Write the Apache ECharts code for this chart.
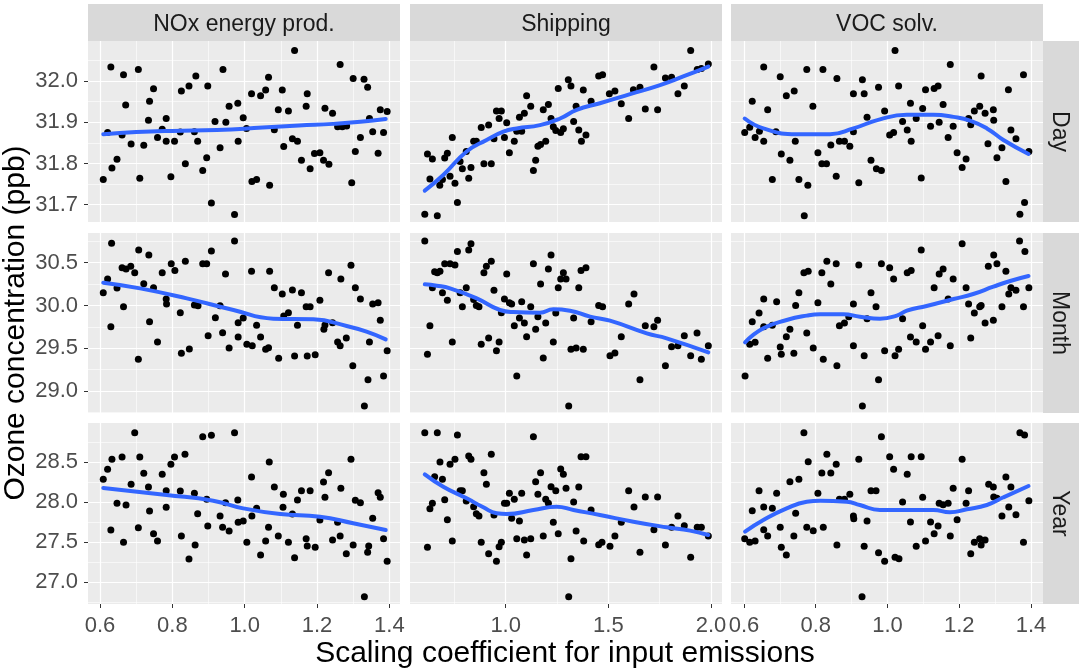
<!DOCTYPE html>
<html>
<head>
<meta charset="utf-8">
<script src="https://cdn.jsdelivr.net/npm/echarts@6/dist/echarts.min.js"></script>
<style>
html, body { margin: 0; padding: 0; background: #ffffff; }
#chart { width: 1079px; height: 670px; }
</style>
</head>
<body>
<div id="chart"></div>
<script>
// Facet labels
const sectors = ['NOx energy prod.', 'Shipping', 'VOC solv.'];
const periods = ['Day', 'Month', 'Year'];

// Tick labels
const xTicksNox = [0.6, 0.8, 1.0, 1.2, 1.4];
const xTicksShip = [1.0, 1.5, 2.0];
const xTicksVoc = [0.6, 0.8, 1.0, 1.2, 1.4];
const yTicksDay = [31.7, 31.8, 31.9, 32.0];
const yTicksMonth = [29.0, 29.5, 30.0, 30.5];
const yTicksYear = [27.0, 27.5, 28.0, 28.5];

// Model runs: [scaling coefficient, ozone (ppb)]
const noxDay = [[0.609,31.761],[0.621,31.875],[0.630,32.034],[0.633,31.789],[0.647,31.810],[0.661,31.869],[0.665,32.015],[0.671,31.942],[0.686,31.847],[0.706,32.028],[0.710,31.764],[0.721,31.844],[0.734,31.905],[0.737,31.951],[0.748,31.981],[0.759,31.863],[0.772,31.883],[0.783,31.909],[0.783,31.854],[0.796,31.768],[0.806,31.854],[0.822,31.876],[0.825,31.976],[0.836,31.799],[0.846,31.988],[0.861,31.877],[0.865,32.012],[0.870,31.854],[0.884,31.783],[0.895,31.814],[0.898,31.988],[0.908,31.704],[0.918,31.902],[0.932,31.838],[0.940,32.028],[0.948,31.900],[0.957,31.939],[0.972,31.676],[0.981,31.946],[0.982,31.854],[0.996,31.911],[1.005,31.885],[1.019,31.969],[1.020,31.756],[1.033,31.761],[1.044,31.964],[1.058,31.978],[1.066,32.009],[1.069,31.747],[1.082,31.882],[1.093,31.930],[1.104,31.978],[1.108,31.841],[1.121,31.927],[1.132,31.860],[1.138,32.074],[1.146,31.854],[1.157,31.808],[1.170,31.939],[1.173,31.969],[1.181,31.787],[1.193,31.824],[1.208,31.826],[1.218,31.808],[1.222,31.934],[1.233,31.798],[1.243,31.922],[1.257,31.889],[1.264,32.040],[1.270,31.889],[1.282,31.891],[1.296,31.753],[1.300,32.006],[1.306,31.829],[1.320,31.863],[1.330,32.004],[1.340,31.985],[1.345,31.909],[1.354,31.877],[1.369,31.825],[1.375,31.930],[1.384,31.875],[1.394,31.926]];
const noxMonth = [[0.609,30.149],[0.621,30.309],[0.632,30.726],[0.630,29.752],[0.647,30.204],[0.661,30.442],[0.665,29.986],[0.672,30.426],[0.685,30.457],[0.696,30.383],[0.707,30.648],[0.706,29.370],[0.721,30.255],[0.735,30.590],[0.737,29.810],[0.748,30.208],[0.759,29.573],[0.772,30.383],[0.783,30.075],[0.784,30.017],[0.797,30.488],[0.807,30.410],[0.822,29.916],[0.825,29.440],[0.836,30.516],[0.847,29.491],[0.861,30.005],[0.871,29.997],[0.884,30.488],[0.895,30.488],[0.899,29.647],[0.908,30.636],[0.919,29.857],[0.932,29.997],[0.939,29.682],[0.947,30.368],[0.957,29.503],[0.972,30.753],[0.982,29.799],[0.982,29.631],[0.996,29.853],[1.006,29.546],[1.019,30.399],[1.021,29.530],[1.033,29.768],[1.044,29.631],[1.058,29.487],[1.066,29.507],[1.069,30.399],[1.082,30.208],[1.094,29.382],[1.104,30.134],[1.108,29.877],[1.121,29.916],[1.132,30.181],[1.138,29.409],[1.146,29.768],[1.157,30.149],[1.170,29.986],[1.173,29.409],[1.181,29.986],[1.195,29.425],[1.208,30.060],[1.219,29.721],[1.222,29.772],[1.232,30.383],[1.243,29.799],[1.257,29.573],[1.264,29.530],[1.266,30.309],[1.281,29.620],[1.294,30.469],[1.299,29.296],[1.306,30.208],[1.320,30.075],[1.331,28.825],[1.341,29.133],[1.345,29.573],[1.354,30.017],[1.369,30.033],[1.375,29.826],[1.384,29.176],[1.394,29.472]];
const noxYear = [[0.609,28.288],[0.621,28.413],[0.630,27.654],[0.633,28.538],[0.647,27.988],[0.661,28.567],[0.665,27.500],[0.672,27.967],[0.686,28.225],[0.696,28.871],[0.706,27.683],[0.710,28.567],[0.721,28.363],[0.734,28.192],[0.737,27.892],[0.748,27.608],[0.759,27.517],[0.772,28.350],[0.783,28.146],[0.783,27.938],[0.796,28.475],[0.806,28.567],[0.822,28.142],[0.825,27.579],[0.835,28.600],[0.846,27.292],[0.861,28.113],[0.863,27.467],[0.870,27.858],[0.884,28.821],[0.895,28.038],[0.898,27.704],[0.908,28.838],[0.932,27.829],[0.939,27.688],[0.947,27.996],[0.957,27.642],[0.972,28.871],[0.981,28.029],[0.982,27.750],[0.996,27.767],[1.006,27.500],[1.019,28.317],[1.020,27.829],[1.033,27.925],[1.044,27.342],[1.058,27.517],[1.066,27.688],[1.068,28.504],[1.082,28.192],[1.093,27.579],[1.107,28.100],[1.106,27.938],[1.121,27.500],[1.132,27.854],[1.138,27.308],[1.146,28.029],[1.157,28.146],[1.170,27.546],[1.173,27.454],[1.181,28.146],[1.195,27.438],[1.208,27.779],[1.218,28.254],[1.222,28.063],[1.232,28.371],[1.243,27.529],[1.257,27.750],[1.264,27.579],[1.266,28.175],[1.281,27.358],[1.294,28.538],[1.300,27.467],[1.306,28.025],[1.320,27.996],[1.331,26.821],[1.340,27.375],[1.343,27.454],[1.354,27.800],[1.369,28.121],[1.375,28.063],[1.384,27.546],[1.394,27.263]];
const shipDay = [[0.606,31.677],[0.667,31.673],[0.619,31.823],[0.643,31.811],[0.631,31.762],[0.679,31.747],[0.692,31.761],[0.703,31.813],[0.716,31.825],[0.729,31.769],[0.740,31.863],[0.753,31.752],[0.765,31.705],[0.778,31.805],[0.789,31.787],[0.808,31.829],[0.820,31.764],[0.831,31.790],[0.844,31.854],[0.857,31.854],[0.881,31.887],[0.894,31.799],[0.917,31.893],[0.930,31.799],[0.943,31.860],[0.955,31.927],[0.968,31.909],[0.979,31.927],[0.994,31.863],[1.005,31.899],[1.018,31.826],[1.042,31.854],[1.054,31.878],[1.067,31.912],[1.078,31.878],[1.091,31.922],[1.102,31.964],[1.122,31.939],[1.135,31.783],[1.146,31.808],[1.157,31.842],[1.170,31.846],[1.183,31.930],[1.195,31.854],[1.208,31.943],[1.221,31.909],[1.232,31.889],[1.244,31.880],[1.256,31.982],[1.268,31.875],[1.281,31.884],[1.305,32.003],[1.318,31.988],[1.331,31.902],[1.343,31.939],[1.356,31.881],[1.369,31.854],[1.378,31.978],[1.391,31.869],[1.416,31.951],[1.453,32.012],[1.472,32.015],[1.505,31.969],[1.532,31.976],[1.563,31.945],[1.599,31.909],[1.622,31.979],[1.654,31.985],[1.680,31.932],[1.722,32.034],[1.740,31.930],[1.778,32.007],[1.808,32.009],[1.839,31.969],[1.870,31.988],[1.901,32.074],[1.933,32.028],[1.953,32.030],[1.987,32.041]];
const shipMonth = [[0.606,30.753],[0.619,29.429],[0.631,29.764],[0.643,30.208],[0.654,30.395],[0.667,30.383],[0.680,30.399],[0.692,30.149],[0.703,30.488],[0.716,30.060],[0.729,30.488],[0.740,29.573],[0.753,30.473],[0.765,30.632],[0.778,30.149],[0.789,29.986],[0.808,30.208],[0.820,30.648],[0.831,30.722],[0.844,30.071],[0.857,30.001],[0.870,29.986],[0.881,29.546],[0.894,30.383],[0.906,30.457],[0.917,29.620],[0.930,30.516],[0.943,30.177],[0.955,29.472],[0.968,29.573],[0.979,29.916],[0.994,30.075],[1.005,30.368],[1.018,30.033],[1.029,30.017],[1.042,29.764],[1.054,29.176],[1.067,29.853],[1.078,30.044],[1.091,29.795],[1.102,29.635],[1.122,29.986],[1.135,30.488],[1.146,29.721],[1.157,29.869],[1.170,30.251],[1.183,29.386],[1.195,29.795],[1.208,30.426],[1.221,30.590],[1.232,29.573],[1.244,29.912],[1.256,30.208],[1.268,30.309],[1.281,30.383],[1.294,30.309],[1.318,29.487],[1.331,29.853],[1.343,29.503],[1.307,28.825],[1.356,30.208],[1.367,30.410],[1.378,29.487],[1.391,30.442],[1.416,29.810],[1.453,30.001],[1.472,29.986],[1.508,29.413],[1.532,29.444],[1.563,29.635],[1.599,30.017],[1.625,30.134],[1.654,29.133],[1.680,29.764],[1.722,29.752],[1.740,29.826],[1.778,29.296],[1.808,29.518],[1.839,29.530],[1.870,29.647],[1.901,29.413],[1.932,29.678],[1.953,29.370],[1.987,29.530]];
const shipYear = [[0.606,28.871],[0.667,28.871],[0.619,27.438],[0.631,27.921],[0.643,27.988],[0.654,28.321],[0.680,28.504],[0.692,28.288],[0.703,28.033],[0.716,27.783],[0.729,28.475],[0.740,27.517],[0.753,28.538],[0.765,28.842],[0.778,28.146],[0.789,28.146],[0.808,28.017],[0.820,28.579],[0.831,28.538],[0.844,27.946],[0.857,27.858],[0.870,27.829],[0.881,27.500],[0.894,28.371],[0.906,28.225],[0.917,27.358],[0.930,28.600],[0.943,27.842],[0.955,27.263],[0.968,27.446],[0.979,27.500],[0.994,27.988],[1.005,27.988],[1.018,28.113],[1.029,27.800],[1.042,28.038],[1.054,27.546],[1.067,27.767],[1.078,28.113],[1.091,27.529],[1.102,27.342],[1.122,27.546],[1.135,28.821],[1.146,28.258],[1.157,28.100],[1.170,28.371],[1.183,27.579],[1.195,28.038],[1.208,27.988],[1.221,28.196],[1.232,27.750],[1.244,28.146],[1.256,27.608],[1.268,28.417],[1.281,28.350],[1.294,28.175],[1.318,27.296],[1.331,28.004],[1.343,27.642],[1.307,26.821],[1.356,28.192],[1.367,28.571],[1.380,27.517],[1.391,28.571],[1.416,27.904],[1.453,27.471],[1.469,27.500],[1.508,27.450],[1.532,27.579],[1.563,27.750],[1.599,28.146],[1.625,27.942],[1.654,27.375],[1.680,28.067],[1.722,27.658],[1.740,28.067],[1.778,27.467],[1.808,27.688],[1.839,27.829],[1.870,27.708],[1.901,27.313],[1.933,27.688],[1.953,27.688],[1.987,27.579]];
const vocDay = [[0.602,31.875],[0.616,31.888],[0.623,31.951],[0.631,31.863],[0.643,31.878],[0.655,31.854],[0.655,32.034],[0.666,31.930],[0.679,31.761],[0.689,31.877],[0.701,32.010],[0.704,31.823],[0.718,31.964],[0.728,31.808],[0.740,31.976],[0.743,31.854],[0.753,31.761],[0.775,32.028],[0.778,31.747],[0.768,31.673],[0.792,31.939],[0.806,31.826],[0.817,31.799],[0.820,32.028],[0.830,31.799],[0.842,31.845],[0.857,31.769],[0.859,32.006],[0.866,31.854],[0.880,31.854],[0.895,31.842],[0.905,31.969],[0.905,31.877],[0.920,31.753],[0.930,32.003],[0.935,31.969],[0.943,31.912],[0.954,31.808],[0.969,31.787],[0.975,31.985],[0.983,31.783],[0.992,31.927],[1.006,31.869],[1.017,31.875],[1.021,32.074],[1.031,31.988],[1.042,31.902],[1.055,31.881],[1.064,31.946],[1.066,31.854],[1.080,31.909],[1.094,31.765],[1.098,31.933],[1.106,31.979],[1.120,31.890],[1.130,31.982],[1.141,31.988],[1.144,31.900],[1.155,31.943],[1.169,31.863],[1.175,32.040],[1.183,31.890],[1.194,31.826],[1.208,31.790],[1.219,31.811],[1.226,31.909],[1.232,31.894],[1.242,31.927],[1.257,31.939],[1.261,32.012],[1.272,31.922],[1.280,31.848],[1.295,31.930],[1.296,31.905],[1.305,31.814],[1.319,31.838],[1.330,31.756],[1.337,31.979],[1.344,31.881],[1.358,31.860],[1.369,31.677],[1.379,32.015],[1.382,31.705],[1.394,31.829]];
const vocMonth = [[0.603,29.176],[0.616,29.546],[0.623,29.810],[0.631,29.569],[0.642,29.912],[0.655,29.752],[0.655,30.075],[0.666,29.382],[0.679,29.768],[0.691,30.044],[0.701,29.514],[0.704,29.429],[0.718,29.635],[0.728,29.721],[0.739,29.440],[0.744,30.001],[0.753,30.149],[0.767,30.383],[0.775,29.678],[0.779,30.399],[0.793,29.503],[0.806,30.033],[0.817,30.383],[0.821,29.370],[0.831,30.516],[0.842,30.251],[0.857,30.488],[0.859,29.296],[0.866,29.764],[0.880,29.795],[0.892,29.869],[0.905,30.017],[0.905,29.530],[0.920,30.473],[0.930,28.825],[0.935,29.413],[0.943,29.846],[0.954,30.149],[0.968,29.986],[0.975,29.133],[0.983,30.488],[0.992,29.472],[1.006,30.442],[1.017,30.309],[1.021,29.413],[1.031,29.487],[1.042,29.846],[1.055,30.383],[1.064,29.631],[1.066,30.410],[1.080,29.573],[1.094,30.648],[1.098,29.764],[1.106,29.487],[1.120,29.573],[1.130,30.208],[1.141,29.647],[1.144,30.368],[1.155,30.426],[1.169,30.075],[1.175,29.530],[1.183,30.309],[1.208,30.722],[1.219,30.208],[1.226,30.017],[1.232,29.620],[1.242,29.912],[1.257,29.986],[1.261,30.001],[1.272,29.795],[1.281,30.457],[1.295,29.826],[1.296,30.590],[1.305,30.488],[1.319,29.986],[1.330,30.399],[1.338,30.134],[1.344,30.208],[1.358,30.177],[1.368,30.753],[1.379,29.986],[1.383,30.632],[1.394,30.208]];
const vocYear = [[0.602,27.546],[0.616,27.500],[0.623,27.896],[0.631,27.517],[0.642,28.146],[0.655,27.942],[0.655,27.658],[0.666,27.579],[0.679,27.925],[0.691,28.113],[0.701,27.688],[0.704,27.438],[0.718,27.342],[0.728,28.258],[0.739,27.579],[0.744,27.863],[0.753,28.288],[0.767,28.871],[0.775,27.688],[0.779,28.508],[0.793,27.646],[0.806,28.113],[0.817,28.367],[0.821,27.688],[0.831,28.600],[0.842,28.367],[0.857,28.475],[0.859,27.467],[0.866,28.038],[0.880,28.038],[0.895,28.100],[0.905,27.829],[0.906,27.796],[0.920,28.538],[0.929,26.821],[0.935,27.450],[0.943,27.767],[0.954,28.146],[0.968,28.146],[0.975,27.371],[0.983,28.821],[0.992,27.263],[1.006,28.571],[1.017,28.413],[1.021,27.313],[1.032,27.296],[1.042,28.004],[1.055,28.350],[1.064,27.754],[1.066,28.571],[1.080,27.450],[1.094,28.571],[1.098,28.063],[1.106,27.517],[1.120,27.754],[1.130,27.608],[1.141,27.704],[1.144,27.988],[1.155,27.971],[1.169,27.988],[1.175,27.579],[1.183,28.175],[1.194,27.783],[1.208,28.538],[1.219,27.988],[1.226,28.146],[1.232,27.358],[1.242,27.500],[1.257,27.546],[1.261,27.467],[1.272,27.529],[1.282,28.225],[1.295,28.192],[1.296,28.067],[1.305,28.050],[1.319,27.829],[1.330,28.317],[1.338,27.942],[1.344,28.192],[1.358,27.846],[1.369,28.871],[1.379,27.500],[1.382,28.842],[1.394,28.021]];

// Loess fits: [scaling coefficient, fitted ozone (ppb)]
const noxDayFit = [[0.609,31.871],[0.700,31.876],[0.800,31.879],[0.923,31.881],[1.050,31.887],[1.150,31.892],[1.245,31.896],[1.320,31.901],[1.390,31.908]];
const noxMonthFit = [[0.609,30.266],[0.711,30.200],[0.840,30.083],[0.969,29.947],[1.079,29.846],[1.190,29.838],[1.282,29.760],[1.337,29.694],[1.390,29.604]];
const noxYearFit = [[0.609,28.179],[0.784,28.092],[0.913,28.021],[0.996,27.925],[1.098,27.854],[1.208,27.821],[1.300,27.738],[1.390,27.654]];
const shipDayFit = [[0.606,31.734],[0.696,31.772],[0.810,31.829],[0.907,31.857],[0.989,31.877],[1.054,31.885],[1.167,31.893],[1.265,31.909],[1.346,31.930],[1.459,31.946],[1.606,31.968],[1.752,31.990],[1.865,32.011],[1.987,32.035]];
const shipMonthFit = [[0.606,30.247],[0.664,30.231],[0.729,30.200],[0.859,30.083],[0.972,29.947],[1.037,29.923],[1.167,29.916],[1.232,29.955],[1.313,29.939],[1.411,29.869],[1.508,29.822],[1.687,29.674],[1.784,29.616],[1.987,29.452]];
const shipYearFit = [[0.606,28.350],[0.696,28.196],[0.810,28.050],[0.891,27.938],[0.956,27.863],[1.005,27.854],[1.135,27.904],[1.248,27.946],[1.330,27.904],[1.459,27.842],[1.622,27.758],[1.784,27.688],[1.898,27.646],[1.987,27.592]];
const vocDayFit = [[0.602,31.909],[0.654,31.885],[0.747,31.871],[0.840,31.871],[0.905,31.885],[0.979,31.907],[1.054,31.918],[1.128,31.918],[1.184,31.913],[1.230,31.904],[1.277,31.885],[1.323,31.857],[1.393,31.823]];
const vocMonthFit = [[0.603,29.569],[0.654,29.733],[0.719,29.830],[0.775,29.881],[0.812,29.896],[0.877,29.896],[0.923,29.869],[0.979,29.846],[1.026,29.881],[1.054,29.939],[1.109,29.994],[1.184,30.075],[1.239,30.134],[1.295,30.220],[1.342,30.286],[1.393,30.344]];
const vocYearFit = [[0.603,27.633],[0.654,27.779],[0.719,27.925],[0.775,28.008],[0.812,28.021],[0.886,28.008],[0.923,27.967],[0.979,27.904],[1.054,27.904],[1.128,27.904],[1.174,27.875],[1.221,27.913],[1.277,27.967],[1.323,28.063],[1.393,28.204]];

// Panel grid: rows = periods, columns = sectors
const points = [
  [noxDay, shipDay, vocDay],
  [noxMonth, shipMonth, vocMonth],
  [noxYear, shipYear, vocYear]
];
const fits = [
  [noxDayFit, shipDayFit, vocDayFit],
  [noxMonthFit, shipMonthFit, vocMonthFit],
  [noxYearFit, shipYearFit, vocYearFit]
];
const xTicks = [xTicksNox, xTicksShip, xTicksVoc];
const yTicks = [yTicksDay, yTicksMonth, yTicksYear];

// Layout of the facet panels (pixels) and the visible data range of each scale
const colLeft = [88, 410, 731];
const colWidth = 312;
const rowTop = [41, 233, 423];
const rowHeight = [181, 180, 181];
const xRange = [[0.5668, 1.4295], [0.534, 2.0536], [0.5638, 1.4334]];
const xSplit = [5, 3, 5];
const yRange = [[31.658, 32.097], [28.743, 30.847], [26.729, 28.992]];

const FONT = '"Liberation Sans", Arial, Helvetica, sans-serif';
const PANEL_BG = '#EBEBEB';
const STRIP_BG = '#D9D9D9';

const grids = [], xAxes = [], yAxes = [], series = [];
for (let r = 0; r < 3; r++) {
  for (let c = 0; c < 3; c++) {
    const idx = r * 3 + c;
    grids.push({
      left: colLeft[c], top: rowTop[r], width: colWidth, height: rowHeight[r],
      show: true, backgroundColor: PANEL_BG, borderWidth: 0, containLabel: false
    });
    const bottomRow = r === 2;
    const leftCol = c === 0;
    xAxes.push({
      type: 'value', gridIndex: idx,
      min: xRange[c][0], max: xRange[c][1], splitNumber: xSplit[c],
      axisLine: { show: false },
      axisTick: { show: bottomRow, length: 4, lineStyle: { color: '#333333', width: 1 }, customValues: xTicks[c] },
      axisLabel: {
        show: bottomRow, customValues: xTicks[c],
        margin: 11, fontSize: 22, color: '#4D4D4D', fontFamily: FONT,
        formatter: v => v.toFixed(1)
      },
      splitLine: { show: true, lineStyle: { color: '#FFFFFF', width: 1.2 } },
      minorTick: { show: false, splitNumber: 2 },
      minorSplitLine: { show: true, lineStyle: { color: '#FFFFFF', width: 0.6 } }
    });
    yAxes.push({
      type: 'value', gridIndex: idx,
      min: yRange[r][0], max: yRange[r][1], splitNumber: 4,
      axisLine: { show: false },
      axisTick: { show: leftCol, length: 4, lineStyle: { color: '#333333', width: 1 }, customValues: yTicks[r] },
      axisLabel: {
        show: leftCol, customValues: yTicks[r],
        margin: 10, fontSize: 22, color: '#4D4D4D', fontFamily: FONT,
        formatter: v => v.toFixed(1)
      },
      splitLine: { show: true, lineStyle: { color: '#FFFFFF', width: 1.2 } },
      minorTick: { show: false, splitNumber: 2 },
      minorSplitLine: { show: true, lineStyle: { color: '#FFFFFF', width: 0.6 } }
    });
    series.push({
      type: 'scatter', xAxisIndex: idx, yAxisIndex: idx,
      data: points[r][c], symbol: 'circle', symbolSize: 7,
      itemStyle: { color: '#000000', opacity: 1 }, silent: true, z: 2
    });
    series.push({
      type: 'line', xAxisIndex: idx, yAxisIndex: idx,
      data: fits[r][c], showSymbol: false, smooth: true,
      lineStyle: { color: '#3366FF', width: 4, cap: 'round', join: 'round' },
      silent: true, z: 3
    });
  }
}

// Facet strips and axis titles
const graphic = [];
sectors.forEach((s, c) => {
  graphic.push({ type: 'rect', shape: { x: colLeft[c], y: 4, width: colWidth, height: 37 }, style: { fill: STRIP_BG }, silent: true });
  graphic.push({ type: 'text', x: colLeft[c] + colWidth / 2, y: 25,
    style: { text: s, fill: '#1A1A1A', font: '23px ' + FONT, align: 'center', verticalAlign: 'middle', textAlign: 'center', textVerticalAlign: 'middle' }, silent: true });
});
periods.forEach((p, r) => {
  graphic.push({ type: 'rect', shape: { x: 1043, y: rowTop[r], width: 37, height: rowHeight[r] }, style: { fill: STRIP_BG }, silent: true });
  graphic.push({ type: 'text', x: 1059, y: rowTop[r] + rowHeight[r] / 2, rotation: -Math.PI / 2,
    style: { text: p, fill: '#1A1A1A', font: '23px ' + FONT, align: 'center', verticalAlign: 'middle', textAlign: 'center', textVerticalAlign: 'middle' }, silent: true });
});
graphic.push({ type: 'text', x: 16, y: 323, rotation: Math.PI / 2,
  style: { text: 'Ozone concentration (ppb)', fill: '#000000', font: '30px ' + FONT, align: 'center', verticalAlign: 'middle', textAlign: 'center', textVerticalAlign: 'middle' }, silent: true });
graphic.push({ type: 'text', x: 565, y: 654,
  style: { text: 'Scaling coefficient for input emissions', fill: '#000000', font: '30px ' + FONT, align: 'center', verticalAlign: 'middle', textAlign: 'center', textVerticalAlign: 'middle' }, silent: true });

const chart = echarts.init(document.getElementById('chart'), null, { renderer: 'canvas' });
chart.setOption({
  animation: false,
  backgroundColor: '#FFFFFF',
  textStyle: { fontFamily: FONT },
  grid: grids,
  xAxis: xAxes,
  yAxis: yAxes,
  series: series,
  graphic: graphic
});
</script>
</body>
</html>
